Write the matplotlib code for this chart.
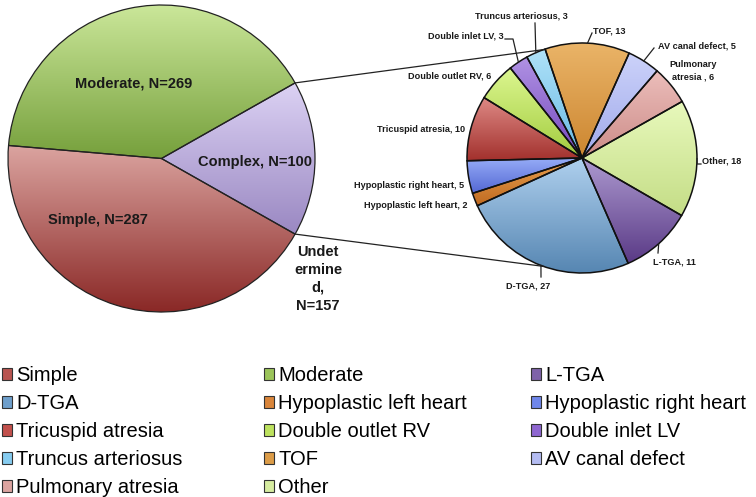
import numpy as np
import matplotlib
matplotlib.use('Agg')
import matplotlib.pyplot as plt
from matplotlib.colors import LinearSegmentedColormap
from matplotlib.patches import Patch

FONT = ['Liberation Sans', 'DejaVu Sans']
W, H = 756, 497

# data
big_labels = ['Simple', 'Moderate', 'Complex']
big_counts = [287, 269, 100]
undetermined = 157

small_labels = ['L-TGA', 'D-TGA', 'Hypoplastic left heart', 'Hypoplastic right heart',
                'Tricuspid atresia', 'Double outlet RV', 'Double inlet LV',
                'Truncus arteriosus', 'TOF', 'AV canal defect', 'Pulmonary atresia', 'Other']
small_values = [11, 27, 2, 5, 10, 6, 3, 3, 13, 5, 6, 18]

# gradient colours (light top, dark bottom) and legend swatch colour
big_colors = {
    'Simple': ('#dba4a0', '#8a2826', '#b85450'),
    'Moderate': ('#cbe79a', '#76a03c', '#9bc45a'),
    'Complex': ('#dcd2f4', '#9a88c2', '#b9a9e0'),
}
small_colors = {
    'L-TGA': ('#ad9ad0', '#5a3a86', '#7e62a8'),
    'D-TGA': ('#afd0ee', '#5686b2', '#6e9fcc'),
    'Hypoplastic left heart': ('#e8a050', '#c06a20', '#d9853a'),
    'Hypoplastic right heart': ('#98aef8', '#5468d4', '#6f86ea'),
    'Tricuspid atresia': ('#de8a86', '#a2302c', '#c2504c'),
    'Double outlet RV': ('#dcf690', '#a2cc3e', '#bde25e'),
    'Double inlet LV': ('#b092e4', '#7448bc', '#8e66d0'),
    'Truncus arteriosus': ('#b0e2f8', '#66b8e4', '#86ccf0'),
    'TOF': ('#eab468', '#cc8630', '#dc9c48'),
    'AV canal defect': ('#ccd2fa', '#a0aaea', '#b4bcf2'),
    'Pulmonary atresia': ('#ecbebb', '#cc8c88', '#dca4a0'),
    'Other': ('#e8f9bc', '#c4dd86', '#d6eca0'),
}

big_center = (161.5, H - 158.5)
big_r = 153.5
small_center = (582, H - 158)
small_r = 115


def gradient_fill(ax, wedge, light, dark):
    ext = wedge.get_path().get_extents()
    cmap = LinearSegmentedColormap.from_list('g', [light, dark])
    im = ax.imshow(np.linspace(0, 1, 256).reshape(-1, 1), cmap=cmap, origin='upper',
                   extent=(ext.x0, ext.x1, ext.y0, ext.y1), aspect='auto',
                   interpolation='bilinear', zorder=1)
    im.set_clip_path(wedge)
    wedge.set_facecolor('none')
    wedge.set_zorder(2)


fig = plt.figure(figsize=(W / 100, H / 100), dpi=100)
ax = fig.add_axes([0, 0, 1, 1])

# first pie: complex wedge is the sum of the second pie
big_values = big_counts[:2] + [sum(small_values)]
split = big_values[2] / sum(big_values) * 360
big_start = -split / 2
wedges, _ = ax.pie(big_values, center=big_center, radius=big_r, counterclock=False,
                   startangle=big_start, frame=True,
                   wedgeprops=dict(edgecolor='#222222', linewidth=0.9))
for w, lab in zip(wedges, big_labels):
    gradient_fill(ax, w, big_colors[lab][0], big_colors[lab][1])

# second pie
small_start = -30
swedges, _ = ax.pie(small_values, center=small_center, radius=small_r, counterclock=False,
                    startangle=small_start, frame=True,
                    wedgeprops=dict(edgecolor='#111111', linewidth=1.1))
for w, lab in zip(swedges, small_labels):
    gradient_fill(ax, w, small_colors[lab][0], small_colors[lab][1])

# connector lines
conn_angle = 109.5
for s in (1, -1):
    a1 = np.radians(s * split / 2)
    a2 = np.radians(s * conn_angle)
    ax.plot([big_center[0] + big_r * np.cos(a1), small_center[0] + small_r * np.cos(a2)],
            [big_center[1] + big_r * np.sin(a1), small_center[1] + small_r * np.sin(a2)],
            color='#222222', lw=0.9, zorder=3)

# big pie labels
bfont = dict(family=FONT, fontweight='bold', fontsize=10.5, color='#1a1a1a')
ax.text(134, H - 83, f'Moderate, N={big_counts[1]}', ha='center', va='center', **bfont)
ax.text(255.5, H - 162, f'Complex, N={big_counts[2]}', ha='center', va='center', **bfont)
ax.text(98, H - 220, f'Simple, N={big_counts[0]}', ha='center', va='center', **bfont)
ax.text(318, H - 279, f'Undet\nermine\nd,\nN={undetermined}', ha='center', va='center',
        linespacing=1.35, **bfont)

# small pie labels: (x, y, ha) in pixel coords
label_pos = {
    'L-TGA': (653, 262, 'left'),
    'D-TGA': (506, 286, 'left'),
    'Hypoplastic left heart': (468, 205, 'right'),
    'Hypoplastic right heart': (464, 186, 'right'),
    'Tricuspid atresia': (465, 129, 'right'),
    'Double outlet RV': (491, 76, 'right'),
    'Double inlet LV': (504, 36, 'right'),
    'Truncus arteriosus': (521, 16, 'center'),
    'TOF': (593, 31, 'left'),
    'AV canal defect': (658, 46, 'left'),
    'Pulmonary atresia': (693, 71, 'center'),
    'Other': (702, 161, 'left'),
}
leaders = {
    'Double inlet LV': [(513, 39), (505, 39)],
    'Truncus arteriosus': [(535, 23)],
    'TOF': [(592, 33)],
    'AV canal defect': [(654, 48)],
    'Other': [(697, 164), (701, 164)],
    'L-TGA': [(658, 253)],
    'D-TGA': [(541, 277)],
}
sfont = dict(family=FONT, fontweight='bold', fontsize=6.6, color='#1a1a1a')
for w, lab, val in zip(swedges, small_labels, small_values):
    x, y, ha = label_pos[lab]
    txt = f'{lab}, {val}' if lab != 'Pulmonary atresia' else f'Pulmonary\natresia , {val}'
    ax.text(x, H - y, txt, ha=ha, va='center', linespacing=1.45, **sfont)
    if lab in leaders:
        mid = np.radians((w.theta1 + w.theta2) / 2)
        xs = [small_center[0] + small_r * np.cos(mid)] + [p[0] for p in leaders[lab]]
        ys = [small_center[1] + small_r * np.sin(mid)] + [H - p[1] for p in leaders[lab]]
        ax.plot(xs, ys, color='#222222', lw=0.9, zorder=3)

# legend, three columns filled row by row
all_labels = big_labels[:2] + small_labels
all_colors = {**big_colors, **small_colors}
col_x = [2, 264, 531]
for c in range(3):
    labs = all_labels[c::3]
    handles = [Patch(facecolor=all_colors[l][2], edgecolor='#333333', linewidth=0.8) for l in labs]
    fig.legend(handles, labs, loc='upper left', bbox_to_anchor=(col_x[c] / W, 1 - 366 / H),
               frameon=False, borderaxespad=0, borderpad=0, handlelength=0.5,
               handleheight=0.5, handletextpad=0.2, labelspacing=0.45,
               prop=dict(family=FONT, size=14.5))

ax.set_xlim(0, W)
ax.set_ylim(0, H)
ax.set_aspect('equal')
ax.axis('off')
fig.savefig('out.png', dpi=100)
